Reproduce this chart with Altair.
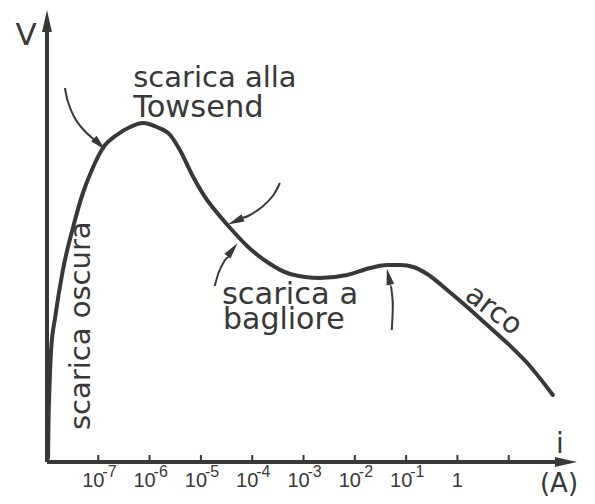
import altair as alt
import pandas as pd

INK = "#383838"
FONT = "DejaVu Sans"
TICKFONT = "Liberation Sans"

# ---- characteristic curve: log10(i / A) and V (arbitrary units) ----
curve_logi = [-7.98, -7.97, -7.95, -7.92, -7.84, -7.69, -7.49, -7.30, -7.10, -6.91,
              -6.64, -6.38, -6.13, -5.86, -5.60, -5.41, -5.15, -4.88, -4.76, -4.43,
              -4.10, -3.71, -3.26, -2.68, -2.15, -1.70, -1.37, -1.11, -0.86, -0.59,
              -0.20, 0.19, 0.58, 0.97, 1.36, 1.86]
curve_v = [4, 42, 77, 112, 145, 192, 235, 269, 295, 314,
           327, 335, 339, 335, 327, 312, 285, 262, 254, 234,
           216, 200, 188, 184, 187, 194, 197, 197, 195, 188,
           172, 155, 137, 119, 99, 67]

# ---- pointer arrows ----
arrow_id = [1] * 6 + [2] * 5 + [3] * 4 + [4] * 4
arrow_ord = [0, 1, 2, 3, 4, 5, 0, 1, 2, 3, 4, 0, 1, 2, 3, 0, 1, 2, 3]
arrow_logi = [-7.65, -7.59, -7.47, -7.32, -7.12, -7.04,
              -3.46, -3.60, -3.81, -4.08, -4.22,
              -4.73, -4.65, -4.53, -4.46,
              -1.28, -1.26, -1.29, -1.31]
arrow_v = [374, 360, 345, 334, 324, 322,
           279, 266, 255, 246, 244,
           176, 190, 202, 205,
           132, 157, 174, 176]
head_logi = [-6.98, -4.32, -4.39, -1.34]
head_v = [318, 241, 212, 185]
head_angle = [135, 247, 38, 348]

# ---- axis ticks and labels ----
tick_pos = [-7, -6, -5, -4, -3, -2, -1, 0, 1]
pow_pos = [-7, -6, -5, -4, -3, -2, -1]
pow_text = ["-7", "-6", "-5", "-4", "-3", "-2", "-1"]
one_pos = [0]
one_text = ["1"]

# ---- annotations ----
label_text = ["scarica alla", "Towsend", "scarica a", "bagliore"]
label_logi = [-6.32, -6.32, -4.59, -4.57]
label_v = [375, 345, 158, 133]
label_size = [29, 30.5, 30.5, 30]

X_MIN, X_MAX = -8, 2.35
V_MAX = 452

xs = alt.Scale(domain=[X_MIN, X_MAX], nice=False, zero=False)
ys = alt.Scale(domain=[0, V_MAX], nice=False, zero=False)


def X(f):
    return alt.X(f, type="quantitative", scale=xs, axis=None)


def Y(f):
    return alt.Y(f, type="quantitative", scale=ys, axis=None)


curve_df = pd.DataFrame({"logi": curve_logi, "v": curve_v})
arrow_df = pd.DataFrame({"id": arrow_id, "o": arrow_ord, "logi": arrow_logi, "v": arrow_v})
head_df = pd.DataFrame({"logi": head_logi, "v": head_v, "ang": head_angle})
tick_df = pd.DataFrame({"logi": tick_pos, "v0": [0] * len(tick_pos), "v1": [7] * len(tick_pos)})
pow_df = pd.DataFrame({"logi": pow_pos, "base": ["10"] * len(pow_pos), "exp": pow_text})
one_df = pd.DataFrame({"logi": one_pos, "t": one_text})
label_df = pd.DataFrame({"t": label_text, "logi": label_logi, "v": label_v, "fs": label_size})

axes_df = pd.DataFrame({"x": [X_MIN, X_MIN], "x2": [X_MIN, 2.0], "y": [0, 0], "y2": [432, 0]})
axhead_df = pd.DataFrame({"x": [X_MIN, 2.115], "y": [441, 0], "ang": [0, 90]})

axes = alt.Chart(axes_df).mark_rule(color=INK, strokeWidth=4).encode(
    x=X("x"), x2="x2", y=Y("y"), y2="y2")
axheads = alt.Chart(axhead_df).mark_point(
    shape="M 0 -1 L 0.45 1 L -0.45 1 Z", filled=True, fill=INK, opacity=1, size=484
).encode(x=X("x"), y=Y("y"), angle=alt.Angle("ang:Q", scale=None))

ticks = alt.Chart(tick_df).mark_rule(color=INK, strokeWidth=2).encode(
    x=X("logi"), y=Y("v0"), y2="v1")

tick_base = alt.Chart(pow_df).mark_text(
    font=TICKFONT, fontSize=20, color=INK, align="center", baseline="alphabetic", dx=-5
).encode(x=X("logi"), y=alt.value(477), text="base:N")
tick_exp = alt.Chart(pow_df).mark_text(
    font=TICKFONT, fontSize=16, color=INK, align="left", baseline="alphabetic", dx=4
).encode(x=X("logi"), y=alt.value(467), text="exp:N")
tick_one = alt.Chart(one_df).mark_text(
    font=TICKFONT, fontSize=20, color=INK, align="center", baseline="alphabetic"
).encode(x=X("logi"), y=alt.value(477), text="t:N")

curve = alt.Chart(curve_df).mark_line(
    color=INK, strokeWidth=4, interpolate="monotone", strokeCap="round"
).encode(x=X("logi"), y=Y("v"))

arrows = alt.Chart(arrow_df).mark_line(
    color=INK, strokeWidth=2, interpolate="cardinal"
).encode(x=X("logi"), y=Y("v"), detail="id:N", order="o:Q")
heads = alt.Chart(head_df).mark_point(
    shape="M 0 -1 L 0.45 0.9 L -0.45 0.9 Z", filled=True, fill=INK, opacity=1, size=300
).encode(x=X("logi"), y=Y("v"), angle=alt.Angle("ang:Q", scale=None))

labels = alt.Chart(label_df).mark_text(
    font=FONT, color=INK, align="left", baseline="alphabetic"
).encode(x=X("logi"), y=Y("v"), text="t:N", size=alt.Size("fs:Q", scale=None))

oscura = alt.Chart(pd.DataFrame({"t": ["scarica oscura"], "logi": [-7.16], "v": [32]})).mark_text(
    font=FONT, fontSize=29, color=INK, align="left", baseline="alphabetic", angle=270
).encode(x=X("logi"), y=Y("v"), text="t:N")

arco = alt.Chart(pd.DataFrame({"t": ["arco"], "logi": [0.71], "v": [152]})).mark_text(
    font=FONT, fontSize=29, color=INK, align="center", baseline="middle", angle=37
).encode(x=X("logi"), y=Y("v"), text="t:N")

axis_titles = alt.Chart(pd.DataFrame({"t": ["V", "i", "(A)"],
                                      "px": [-21, 513, 512],
                                      "py": [35, 443, 482],
                                      "fs": [31, 28, 26]})).mark_text(
    font=FONT, color=INK, align="center", baseline="alphabetic"
).encode(x=alt.X("px:Q", scale=None), y=alt.Y("py:Q", scale=None), text="t:N",
         size=alt.Size("fs:Q", scale=None))

chart = alt.layer(
    axes, axheads, ticks, tick_base, tick_exp, tick_one,
    curve, arrows, heads, labels, oscura, arco, axis_titles
).properties(
    width=531, height=452,
    padding={"left": 39, "top": 2, "right": 9, "bottom": 40},
    autosize=alt.AutoSizeParams(type="none"),
    background="white",
).configure_view(stroke=None)

chart.save("out.html", embed_options={"renderer": "svg", "actions": False})
